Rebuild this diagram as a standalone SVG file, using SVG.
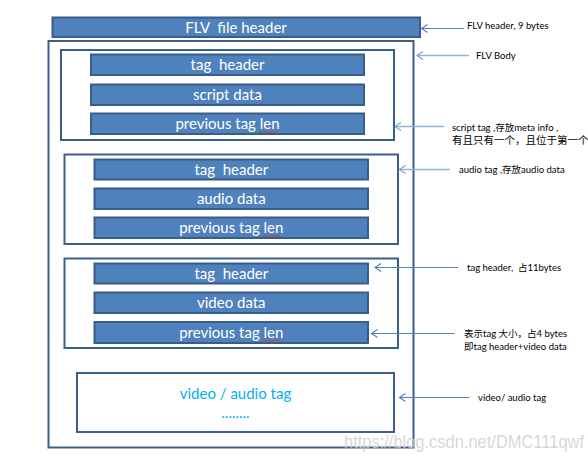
<svg xmlns="http://www.w3.org/2000/svg" width="588" height="461" viewBox="0 0 588 461">
<defs>
<style>
.bar{fill:#4F81BD;stroke:#385D8A;stroke-width:2}
.box{fill:#fff;stroke:#3B5E8C;stroke-width:2}
.bt{font-family:Lato,"Open Sans","Liberation Sans",sans-serif;font-size:15px;fill:#fff;text-anchor:middle;white-space:pre}
.ann{font-family:Lato,"Noto Sans CJK SC","Liberation Sans",sans-serif;font-size:9.5px;fill:#000;white-space:pre}
.cn{font-family:"Noto Sans CJK SC",Lato,sans-serif;font-size:10.5px;fill:#000}
.am{stroke:#4F81BD;stroke-width:1.2;fill:none}
.al{stroke:#95B3D7;stroke-width:1.6;fill:none}
.sq{stroke:#E03030;stroke-width:0.8;fill:none}
</style>
<marker id="hm" markerUnits="userSpaceOnUse" markerWidth="10" markerHeight="10" viewBox="-7 -5 8 10" refX="0" refY="0" orient="auto"><path d="M-6,-4 L0,0 L-6,4" fill="none" stroke="#4F81BD" stroke-width="1.1"/></marker>
<marker id="hl" markerUnits="userSpaceOnUse" markerWidth="10" markerHeight="10" viewBox="-7 -5 8 10" refX="0" refY="0" orient="auto"><path d="M-6,-4 L0,0 L-6,4" fill="none" stroke="#7A9FD0" stroke-width="1.1"/></marker>
</defs>
<rect width="588" height="461" fill="#fff"/>

<g id="flv-header"><rect class="bar" x="52.5" y="17.5" width="367.5" height="19.5"/><text class="bt" x="236" y="32.5" xml:space="preserve">FLV  file header</text></g>

<g id="flv-body"><rect class="box" x="48.5" y="41" width="365" height="406.5" stroke-width="2.4"/></g>

<g id="script-tag">
<rect class="box" x="61" y="50" width="333" height="90"/>
<rect class="bar" x="91" y="54.5" width="273" height="20.5"/><text class="bt" x="227.5" y="70" xml:space="preserve">tag  header</text>
<rect class="bar" x="91" y="84.5" width="273" height="20.5"/><text class="bt" x="227.5" y="100">script data</text>
<rect class="bar" x="91" y="113.5" width="273" height="20.5"/><text class="bt" x="227.5" y="129">previous tag len</text>
<path class="sq" d="M259,132.5 l1.5,-1 l1.5,1 l1.5,-1 l1.5,1 l1.5,-1 l1.5,1 l1.5,-1 l1.5,1 l1.5,-1 l1.5,1 l1.5,-1 l1.5,1"/>
</g>

<g id="audio-tag">
<rect class="box" x="64.5" y="154.5" width="333.5" height="89.5"/>
<rect class="bar" x="94.5" y="159.5" width="273.5" height="20"/><text class="bt" x="231.3" y="174.5" xml:space="preserve">tag  header</text>
<rect class="bar" x="94.5" y="188.5" width="273.5" height="20.5"/><text class="bt" x="231.3" y="204">audio data</text>
<rect class="bar" x="94.5" y="217.5" width="273.5" height="20.5"/><text class="bt" x="231.3" y="233">previous tag len</text>
<path class="sq" d="M262.5,236.5 l1.5,-1 l1.5,1 l1.5,-1 l1.5,1 l1.5,-1 l1.5,1 l1.5,-1 l1.5,1 l1.5,-1 l1.5,1 l1.5,-1 l1.5,1"/>
</g>

<g id="video-tag">
<rect class="box" x="64.5" y="258.5" width="333.5" height="89.5"/>
<rect class="bar" x="94.5" y="263.5" width="273.5" height="20"/><text class="bt" x="231.3" y="278.5" xml:space="preserve">tag  header</text>
<rect class="bar" x="94.5" y="292.5" width="273.5" height="20.5"/><text class="bt" x="231.3" y="308">video data</text>
<rect class="bar" x="94.5" y="322" width="273.5" height="21"/><text class="bt" x="231.3" y="337.5">previous tag len</text>
<path class="sq" d="M262.5,341 l1.5,-1 l1.5,1 l1.5,-1 l1.5,1 l1.5,-1 l1.5,1 l1.5,-1 l1.5,1 l1.5,-1 l1.5,1 l1.5,-1 l1.5,1"/>
</g>

<g id="video-audio-tag">
<rect class="box" x="77" y="373" width="317" height="59"/>
<text class="bt" x="235.5" y="399" style="fill:#00B0F0">video / audio tag</text>
<text class="bt" x="235.5" y="418" style="fill:#00B0F0">........</text>
</g>

<g id="connectors">
<line class="am" x1="464" y1="28.5" x2="421.5" y2="28.5" marker-end="url(#hm)"/>
<line class="al" x1="469" y1="55.5" x2="417" y2="55.5" marker-end="url(#hl)"/>
<line class="al" x1="444" y1="126.5" x2="395" y2="126.5" marker-end="url(#hl)"/>
<line class="al" x1="450" y1="169.5" x2="399.5" y2="169.5" marker-end="url(#hl)"/>
<line class="am" x1="458" y1="267.5" x2="375" y2="267.5" marker-end="url(#hm)"/>
<line class="am" x1="454.5" y1="333.5" x2="371.5" y2="333.5" marker-end="url(#hm)"/>
<line class="am" x1="469.5" y1="397.5" x2="399.5" y2="397.5" marker-end="url(#hm)"/>
</g>

<g id="annotations">
<text class="ann" x="467" y="29">FLV header, 9 bytes</text>
<text class="ann" x="476" y="58.5">FLV Body</text>
<text class="ann" x="452" y="130.5">script tag ,存放meta info ,</text>
<text class="cn" x="452" y="144">有且只有一个，且位于第一个</text>
<text class="ann" x="459" y="173">audio tag ,存放audio data</text>
<text class="ann" x="467" y="271" xml:space="preserve">tag header,  占11bytes</text>
<text class="ann" x="464" y="336.5">表示tag 大小，占4 bytes</text>
<text class="ann" x="464" y="349.5">即tag header+video data</text>
<text class="ann" x="478" y="400.5">video/ audio tag</text>
</g>

<text x="344" y="448" font-family="'Liberation Sans',Arial,sans-serif" font-size="18" fill="#D0D0D0" fill-opacity="0.85" textLength="240" lengthAdjust="spacingAndGlyphs">https://blog.csdn.net/DMC111qwf</text>
</svg>
